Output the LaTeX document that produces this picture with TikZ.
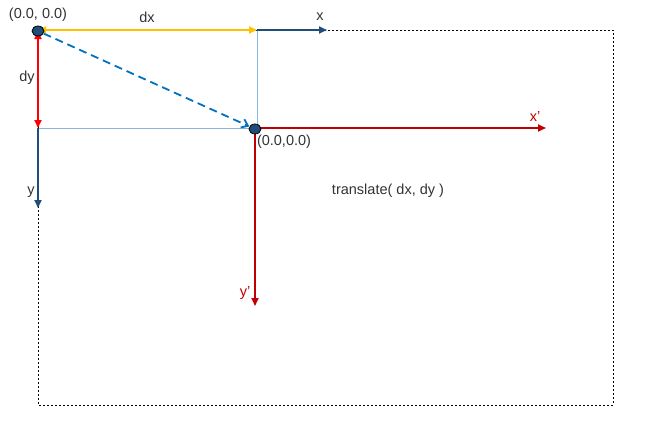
\documentclass[tikz,border=0pt]{standalone}
\usepackage{fontspec}
\setmainfont{Liberation Sans}
\usepackage{xcolor}
\usetikzlibrary{arrows.meta,positioning,shapes.geometric}

\definecolor{axisblue}{HTML}{1F4E79}
\definecolor{darkred}{HTML}{C00000}
\definecolor{gold}{HTML}{FFC000}
\definecolor{midblue}{HTML}{0070C0}
\definecolor{guideblue}{HTML}{8AB6DC}

\begin{document}
\begin{tikzpicture}[x=1pt,y=-1pt,font=\fontsize{14.5}{16}\selectfont,
  axis/.style={-{Triangle[length=8pt,width=7pt]},line width=1.8pt},
  offset/.style={line width=1.8pt,{Triangle[length=8pt,width=7pt]}-{Triangle[length=8pt,width=7pt]}},
  guide/.style={guideblue,line width=0.8pt},
  dot/.style={ellipse,draw=black,line width=0.8pt,fill=axisblue,minimum width=12pt,minimum height=10pt,inner sep=0pt},
  lbl/.style={text=black!80,inner sep=1pt}]
  \useasboundingbox (0,0) rectangle (650,431);
  % canvas outline
  \draw[black,line width=0.8pt,dash pattern=on 2pt off 2pt] (38,30) rectangle (613,405);
  % corner points
  \coordinate (a) at (257,30);
  \coordinate (b) at (38,128);
  \coordinate (xe) at (327,30);
  \coordinate (ye) at (38,208);
  \coordinate (xpe) at (546,128);
  \coordinate (ype) at (255,306);
  \coordinate (p0) at (255,128);
  % guides
  \draw[guide] (a) -- (257,128);
  \draw[guide] (b) -- (p0);
  % old axes
  \draw[axis,axisblue] (a) -- (xe);
  \draw[axis,axisblue] (b) -- (ye);
  % new axes
  \draw[axis,darkred] (p0) -- (xpe);
  \draw[axis,darkred] (p0) -- (ype);
  % offsets
  \draw[offset,gold] (38,30) -- (a);
  \draw[offset,red] (38,31) -- (b);
  \node[dot] (o) at (38,31) {};
  \node[dot] (p) at (255,129) {};
  \draw[midblue,line width=1.8pt,dash pattern=on 8pt off 5pt,-{Straight Barb[length=6pt,width=9pt]}] (o) -- (p);
  % labels
  \node[lbl] (olbl) at (38,15) {(0.0, 0.0)};
  \node[lbl] (dx) at (147,17) {dx};
  \node[lbl] (xl) at (320,17) {x};
  \node[lbl] (dy) at (27,78) {dy};
  \node[lbl] (yl) at (31,192) {y};
  \node[lbl] (plbl) at (284,142) {(0.0,0.0)};
  \node[lbl,text=darkred] (xpl) at (535,117) {x'};
  \node[lbl,text=darkred] (ypl) at (245,293) {y'};
  \node[lbl] (tr) at (388,191) {translate( dx, dy )};
\end{tikzpicture}
\end{document}
